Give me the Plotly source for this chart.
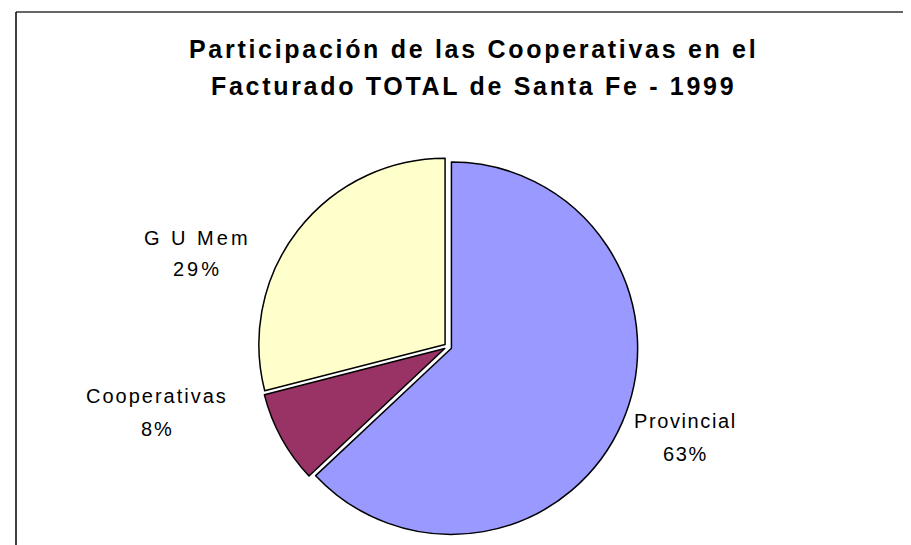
import plotly.graph_objects as go

categories = ["Provincial", "Cooperativas", "G U Mem"]
values = [63, 8, 29]
colors = ["#9999FF", "#993366", "#FFFFCC"]
title_lines = ["Participación de las Cooperativas en el", "Facturado TOTAL de Santa Fe - 1999"]

W, H = 911, 545
total = sum(values)
pcts = [round(v * 100 / total) for v in values]

FONT = "Liberation Sans, Arial, sans-serif"

fig = go.Figure()
fig.add_trace(go.Pie(
    labels=categories,
    values=values,
    sort=False,
    direction="clockwise",
    rotation=0,
    pull=[0.02, 0.02, 0.02],
    marker=dict(colors=colors, line=dict(color="#000000", width=1.5)),
    textinfo="none",
    hoverinfo="label+percent",
    showlegend=False,
    domain=dict(x=[0.2744, 0.6916], y=[0.03, 0.727]),
))

# label placement: (x center, y of name line center, y of percent line center, letter spacing) in pixels
label_pos = {
    "G U Mem": (189, 230, 261, 3),
    "Cooperativas": (149, 388, 421, 2),
    "Provincial": (677, 413, 446, 1.6),
}
for cat, p in zip(categories, pcts):
    x, y1, y2, ls = label_pos[cat]
    for txt, yy in ((cat, y1), (f"{p}%", y2)):
        fig.add_annotation(
            x=x / W, y=1 - yy / H, xref="paper", yref="paper",
            text=f'<span style="letter-spacing:{ls}px">{txt}</span>',
            showarrow=False, align="center",
            font=dict(family=FONT, size=20, color="#000000"),
            xanchor="center", yanchor="middle",
        )

# title (two lines)
for t, yy in zip(title_lines, (41, 78)):
    fig.add_annotation(
        x=466 / W, y=1 - yy / H, xref="paper", yref="paper",
        text=f'<span style="letter-spacing:2.7px">{t}</span>',
        showarrow=False, align="center",
        font=dict(family=FONT, size=25, color="#000000", weight="bold"),
        xanchor="center", yanchor="middle",
    )

fig.update_layout(
    width=W, height=H,
    margin=dict(l=0, r=0, t=0, b=0),
    paper_bgcolor="#FFFFFF",
    plot_bgcolor="#FFFFFF",
    shapes=[
        dict(type="line", xref="paper", yref="paper", x0=8 / W, x1=1.01, y0=1 - 4 / H, y1=1 - 4 / H,
             line=dict(color="#333333", width=1.5)),
        dict(type="line", xref="paper", yref="paper", x0=8 / W, x1=8 / W, y0=-0.01, y1=1 - 4 / H,
             line=dict(color="#000000", width=1.5)),
    ],
)

fig.write_html("out.html")
